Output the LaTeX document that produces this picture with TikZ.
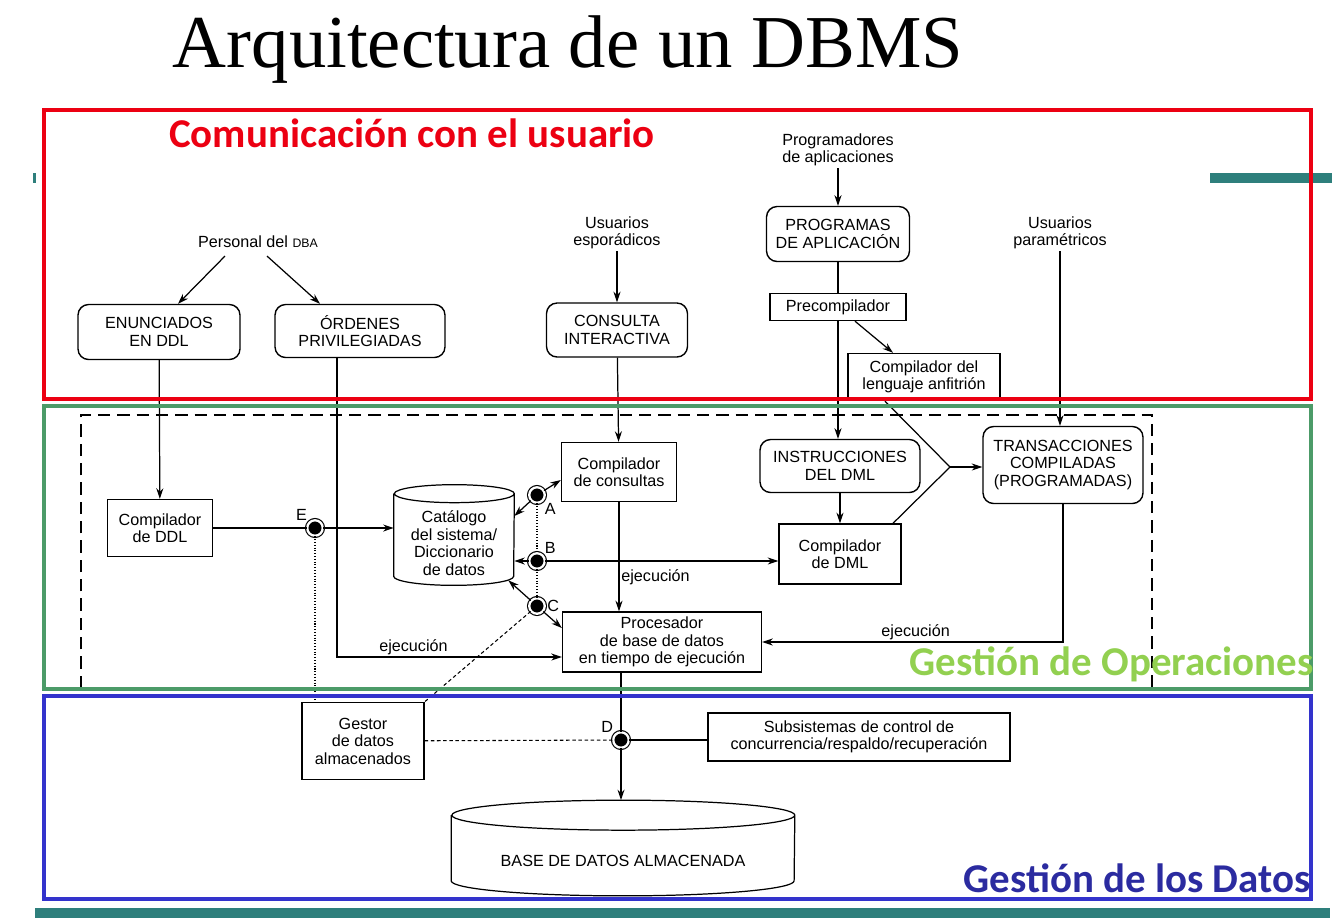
\documentclass[tikz,border=0pt]{standalone}
\usepackage{fontspec}
\setmainfont{Liberation Serif}
\newfontfamily\diagfont{Liberation Sans}
\newfontfamily\headfont{Carlito}
\usepackage{tikz}
\usetikzlibrary{arrows.meta,calc}
\definecolor{usrred}{RGB}{236,0,18}
\definecolor{opgreen}{RGB}{76,155,104}
\definecolor{optext}{RGB}{146,208,80}
\definecolor{datblue}{RGB}{51,51,204}
\definecolor{dattext}{RGB}{43,43,160}
\definecolor{slideteal}{RGB}{46,127,124}

\begin{document}
\begin{tikzpicture}[x=0.02cm, y=-0.02cm,
    txt/.style={font=\diagfont\fontsize{9.2}{10}\selectfont, align=center, inner sep=1pt},
    rbox/.style={txt, rectangle, rounded corners=6pt, draw, line width=0.8pt},
    sbox/.style={txt, rectangle, draw, line width=0.8pt},
    dot/.style={circle, draw, fill=black, double=white, double distance=1.3pt, line width=0.65pt, minimum size=0.31cm, inner sep=0pt},
    tag/.style={font=\diagfont\fontsize{9.2}{10}\selectfont, inner sep=1pt},
    arrow/.style={-{Stealth[length=6pt,width=4pt]}, line width=0.7pt},
    link/.style={line width=0.7pt},
    dots/.style={densely dotted, line width=0.6pt},
    dashes/.style={dash pattern=on 2pt off 1.5pt, line width=0.6pt},
    area/.style={line width=2.6pt},
    head/.style={font=\headfont\bfseries\fontsize{23.3}{28}\selectfont, inner sep=0pt}
]
\useasboundingbox (0,0) rectangle (1343,921);

% title and slide bars
\node[font=\fontsize{42.5}{48}\selectfont] (ttl) at (568,50) {Arquitectura de un DBMS};
\fill[slideteal] (1210,173) rectangle (1332,183);
\fill[slideteal] (33,173) rectangle (36,183);
\fill[slideteal] (35,908) rectangle (1330,918);

% user side
\node[txt] (dba) at (258,242) {Personal del {\fontsize{7}{8}\selectfont DBA}};
\node[rbox, minimum width=3.24cm, minimum height=1.1cm] (enu) at (159,332) {ENUNCIADOS\\EN DDL};
\node[rbox, minimum width=3.4cm, minimum height=1.06cm] (ord) at (360,331) {ÓRDENES\\PRIVILEGIADAS};
\node[txt] (usp) at (617,233) {Usuarios\\esporádicos};
\node[rbox, minimum width=2.82cm, minimum height=1.08cm] (con) at (617,330) {CONSULTA\\INTERACTIVA};
\node[txt] (pap) at (838,150) {Programadores\\de aplicaciones};
\node[rbox, minimum width=2.86cm, minimum height=1.1cm] (prg) at (838,234) {PROGRAMAS\\DE APLICACIÓN};
\node[sbox, minimum width=2.72cm, minimum height=0.54cm] (pre) at (838,307) {Precompilador};
\node[sbox, minimum width=3.04cm, minimum height=0.94cm] (cla) at (924,377) {Compilador del\\lenguaje anfitrión};
\node[txt] (upa) at (1060,233) {Usuarios\\paramétricos};

% compilers and processor
\node[rbox, minimum width=3.2cm, minimum height=1.06cm] (ins) at (840,466) {INSTRUCCIONES\\DEL DML};
\node[rbox, minimum width=3.2cm, minimum height=1.54cm] (trn) at (1063,465) {TRANSACCIONES\\COMPILADAS\\(PROGRAMADAS)};
\node[sbox, minimum width=2.44cm, minimum height=1.2cm] (dml) at (840,554) {Compilador\\de DML};
\node[sbox, minimum width=2.3cm, minimum height=1.18cm] (cq) at (619,472) {Compilador\\de consultas};
\node[sbox, minimum width=2.1cm, minimum height=1.14cm] (ddl) at (160,528) {Compilador\\de DDL};
\node[txt, minimum width=2.4cm, minimum height=2.0cm] (cat) at (454,543) {Catálogo\\del sistema/\\Diccionario\\de datos};
\node[sbox, minimum width=3.98cm, minimum height=1.2cm] (proc) at (662,642) {Procesador\\de base de datos\\en tiempo de ejecución};

% data side
\node[sbox, minimum width=6.04cm, minimum height=0.96cm] (sub) at (859,737) {Subsistemas de control de\\concurrencia/respaldo/recuperación};
\node[sbox, minimum width=2.44cm, minimum height=1.54cm] (gst) at (363,741) {Gestor\\de datos\\almacenados};
\node[txt, minimum width=6.86cm, minimum height=1.9cm, text height=0.75cm] (bd) at (623,848) {BASE DE DATOS ALMACENADA};

% access points
\node[dot, label={[tag]above left:E}] (E) at (315,528) {};
\node[dot, label={[tag]below right:A}] (A) at (537,495) {};
\node[dot, label={[tag]above right:B}] (B) at (537,561) {};
\node[dot, label={[tag]right:C}] (C) at (537,606) {};
\node[dot, label={[tag]above left:D}] (D) at (621,740) {};
\coordinate (mrg) at (950,467);

% cylinders
\draw[link] ($(cat.north west)+(0,1)$) -- ($(cat.south west)+(0,-17)$)
  arc[start angle=180, end angle=360, x radius=1.2cm, y radius=0.18cm]
  -- ($(cat.north east)+(0,1)$)
  arc[start angle=0, end angle=360, x radius=1.2cm, y radius=0.18cm];
\draw[link] ($(bd.north west)+(0,15)$) -- ($(bd.south west)+(0,-15)$)
  arc[start angle=180, end angle=360, x radius=3.43cm, y radius=0.3cm]
  -- ($(bd.north east)+(0,15)$)
  arc[start angle=0, end angle=360, x radius=3.43cm, y radius=0.3cm];

% connectors
\draw[arrow] ($(dba.south)+(-33,6)$) -- ($(enu.north)+(19,0)$);
\draw[arrow] ($(dba.south)+(9,6)$) -- ($(ord.north)+(-40,0)$);
\draw[arrow] (usp) -- (con);
\draw[arrow] (pap) -- (prg);
\draw[link] (prg) -- (pre);
\draw[arrow] ($(pre.south)+(17,0)$) -- ($(cla.north)+(-31,0)$);
\draw[arrow] (pre) -- (pre |- ins.north);
\draw[arrow] (upa) -- (upa |- trn.north);
\draw[arrow] (ins) -- (dml);
\draw[link] ($(cla.south)+(-39,0)$) -- (mrg) -- ($(dml.north)+(53,0)$);
\draw[arrow] (mrg) -- (mrg -| trn.west);
\draw[arrow] (trn.south) |- (proc.east) node[tag, pos=0.745, above] {ejecución};
\draw[arrow] (con) -- (cq);
\draw[arrow] (cq) -- (cq |- proc.north) node[tag, pos=0.69, right] {ejecución};
\draw[arrow] (enu) -- (ddl);
\draw[link] (ddl) -- (E);
\draw[arrow] (E) -- ($(cat.west)+(0,-15)$);
\draw[arrow] (A) -- ($(cat.east)+(0,-27)$);
\draw[arrow] (A) -- ($(cq.west)+(0,8)$);
\draw[arrow] (B) -- ($(cat.east)+(0,18)$);
\draw[arrow] (B) -- ($(dml.west)+(0,7)$);
\draw[arrow] (C) -- ($(cat.south east)+(-6,-13)$);
\draw[arrow] (C) -- ($(proc.west)+(0,-14)$);
\draw[arrow] ($(ord.south)+(-23,0)$) |- ($(proc.west)+(0,15)$) node[tag, pos=0.67, above] {ejecución};
\draw[dots] (A) -- (B) -- (C);
\draw[dots] (E) -- (E |- gst.north);
\draw[dashes] (C) -- (gst.north east);
\draw[dashes] (gst) -- (D);
\draw[link] (D |- proc.south) -- (D);
\draw[arrow] (D) -- (D |- bd.north);
\draw[link] (D) -- (D -| sub.west);

% dashed DBMS boundary
\draw[dash pattern=on 7pt off 4pt, line width=0.8pt] (81,688) -- (81,415) -- (1152,415) -- (1152,688);

% areas
\draw[area, usrred] (44,110) rectangle (1311,399);
\draw[area, opgreen] (44,406) rectangle (1311,689);
\draw[area, datblue] (44,696) rectangle (1311,899);
\node[head, usrred] (hu) at (412,133) {Comunicación con el usuario};
\node[head, optext, anchor=east] (ho) at (1314,664) {Gestión de Operaciones};
\node[head, dattext, anchor=east] (hd) at (1311,878) {Gestión de los Datos};
\end{tikzpicture}
\end{document}
